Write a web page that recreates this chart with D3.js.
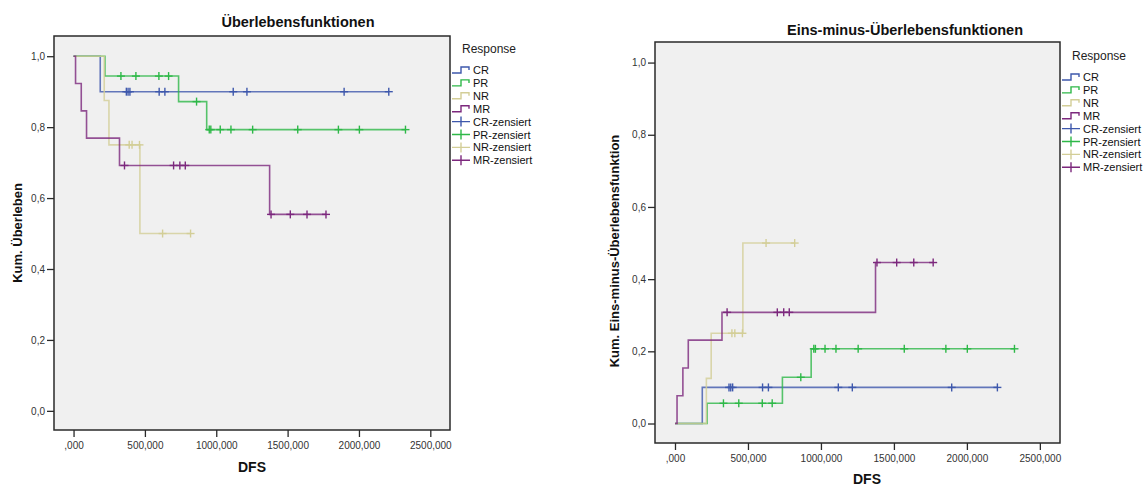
<!DOCTYPE html>
<html>
<head>
<meta charset="utf-8">
<script src="https://cdn.jsdelivr.net/npm/d3@7"></script>
<style>
  body { margin: 0; background: #fff; }
  svg { font-family: "Liberation Sans", Arial, sans-serif; }
</style>
</head>
<body>
<div id="chart"></div>
<script>
// Kaplan-Meier data (DFS in days)
const groups = ['CR', 'PR', 'NR', 'MR'];
const colors = ['#3e58ac', '#2eb848', '#d3ce97', '#7c287d'];

// event times + survival after each step
const crTimes = [0, 187];
const crSurv = [1, 0.9];
const crCensored = [370, 382, 395, 600, 640, 1119, 1215, 1896, 2209];

const prTimes = [0, 220, 736, 933];
const prSurv = [1, 0.944, 0.872, 0.793];
const prCensored = [332, 437, 598, 666, 862, 951, 962, 1028, 1103, 1255, 1571, 1856, 2003, 2326];

const nrTimes = [0, 215, 248, 465];
const nrSurv = [1, 0.875, 0.75, 0.5];
const nrCensored = [390, 410, 462, 624, 820];

const mrTimes = [0, 14, 54, 91, 322, 1374];
const mrSurv = [1, 0.923, 0.846, 0.769, 0.692, 0.554];
const mrCensored = [357, 701, 745, 783, 1384, 1519, 1636, 1769];

const xTicks = [0, 500, 1000, 1500, 2000, 2500];
const yTicks = [0, 0.2, 0.4, 0.6, 0.8, 1.0];
const legendLabels = ['CR', 'PR', 'NR', 'MR', 'CR-zensiert', 'PR-zensiert', 'NR-zensiert', 'MR-zensiert'];

const series = [
  { times: crTimes, surv: crSurv, cens: crCensored },
  { times: prTimes, surv: prSurv, cens: prCensored },
  { times: nrTimes, surv: nrSurv, cens: nrCensored },
  { times: mrTimes, surv: mrSurv, cens: mrCensored },
];

const width = 1144;
const height = 486;

const svg = d3.select('#chart').append('svg')
  .attr('width', width)
  .attr('height', height);

const fmtY = d => d3.format('.1f')(d).replace('.', ',');
const fmtX = d => d === 0 ? ',000' : d3.format('.3f')(d).replace('.', ',');

function drawChart(cfg) {
  const x = d3.scaleLinear().domain([-137, 2638]).range([cfg.left, cfg.right]);
  const y = d3.scaleLinear().domain([-0.054, 1.057]).range([cfg.bottom, cfg.top]);
  const val = cfg.oneMinus ? (s => 1 - s) : (s => s);

  const g = svg.append('g');

  // plot background + frame
  g.append('rect')
    .attr('x', cfg.left).attr('y', cfg.top)
    .attr('width', cfg.right - cfg.left).attr('height', cfg.bottom - cfg.top)
    .attr('fill', '#f0f0f0')
    .attr('stroke', '#2a2a2a')
    .attr('stroke-width', 1.5);

  // axes
  const yAxis = g.append('g')
    .attr('transform', 'translate(' + cfg.left + ',0)')
    .call(d3.axisLeft(y).tickValues(yTicks).tickSize(7).tickPadding(2).tickFormat(fmtY));
  const xAxis = g.append('g')
    .attr('transform', 'translate(0,' + cfg.bottom + ')')
    .call(d3.axisBottom(x).tickValues(xTicks).tickSize(7).tickPadding(5).tickFormat(fmtX));
  [yAxis, xAxis].forEach(a => {
    a.select('.domain').remove();
    a.selectAll('line').attr('stroke', '#2a2a2a').attr('stroke-width', 1.3);
    a.selectAll('text').attr('font-size', 10).attr('fill', '#333')
      .attr('font-family', '"Liberation Sans", Arial, sans-serif');
  });

  // step curves
  const line = d3.line()
    .x(d => x(d[0]))
    .y(d => y(val(d[1])))
    .curve(d3.curveStepAfter);

  series.forEach((s, i) => {
    const pts = s.times.map((t, j) => [t, s.surv[j]]);
    pts.push([d3.max(s.cens), s.surv[s.surv.length - 1]]);
    g.append('path')
      .attr('d', line(pts))
      .attr('fill', 'none')
      .attr('stroke', colors[i])
      .attr('stroke-width', 1.6)
      .attr('opacity', 0.8);
  });

  // censor marks
  series.forEach((s, i) => {
    const marks = g.append('g').attr('stroke', colors[i]).attr('stroke-width', 1.4);
    s.cens.forEach(t => {
      const k = d3.bisectRight(s.times, t) - 1;
      const cx = x(t);
      const cy = y(val(s.surv[k]));
      marks.append('line')
        .attr('x1', cx).attr('x2', cx)
        .attr('y1', cy - 4).attr('y2', cy + 4);
      marks.append('line')
        .attr('x1', cx - 4).attr('x2', cx + 4)
        .attr('y1', cy).attr('y2', cy);
    });
  });

  // titles
  svg.append('text')
    .attr('x', cfg.titleX).attr('y', cfg.titleY)
    .attr('text-anchor', 'middle')
    .attr('font-size', 14.5).attr('font-weight', 'bold').attr('fill', '#111')
    .text(cfg.title);

  svg.append('text')
    .attr('transform', 'translate(' + cfg.yLabelX + ',' + cfg.yLabelY + ') rotate(-90)')
    .attr('text-anchor', 'middle')
    .attr('font-size', 13).attr('font-weight', 'bold').attr('fill', '#111')
    .text(cfg.yLabel);

  svg.append('text')
    .attr('x', cfg.xLabelX).attr('y', cfg.xLabelY)
    .attr('text-anchor', 'middle')
    .attr('font-size', 14).attr('font-weight', 'bold').attr('fill', '#111')
    .text('DFS');

  // legend
  const lg = svg.append('g').attr('transform', 'translate(' + (cfg.right + 2) + ',' + cfg.legendTop + ')');
  lg.append('text')
    .attr('x', 10).attr('y', 0)
    .attr('font-size', 12).attr('fill', '#222')
    .text('Response');

  legendLabels.forEach((label, i) => {
    const cy = 17 + i * 12.9;
    const col = colors[i % 4];
    if (i < 4) {
      lg.append('path')
        .attr('d', 'M0,' + (cy + 3) + 'H9V' + (cy - 3) + 'H17V' + cy)
        .attr('fill', 'none').attr('stroke', col).attr('stroke-width', 1.4);
    } else {
      lg.append('path')
        .attr('d', 'M0,' + cy + 'H18M9,' + (cy - 5) + 'V' + (cy + 5))
        .attr('fill', 'none').attr('stroke', col).attr('stroke-width', 1.4);
    }
    lg.append('text')
      .attr('x', 21).attr('y', cy + 4)
      .attr('font-size', 11).attr('fill', '#111')
      .text(label);
  });
}

drawChart({
  left: 54, right: 450, top: 36, bottom: 430,
  oneMinus: false,
  title: 'Überlebensfunktionen', titleX: 298, titleY: 27,
  yLabel: 'Kum. Überleben', yLabelX: 22, yLabelY: 233,
  xLabelX: 252, xLabelY: 472,
  legendTop: 53,
});

drawChart({
  left: 655, right: 1060, top: 42, bottom: 443,
  oneMinus: true,
  title: 'Eins-minus-Überlebensfunktionen', titleX: 905, titleY: 35,
  yLabel: 'Kum. Eins-minus-Überlebensfunktion', yLabelX: 619, yLabelY: 251,
  xLabelX: 867, xLabelY: 484,
  legendTop: 60,
});
</script>
</body>
</html>
